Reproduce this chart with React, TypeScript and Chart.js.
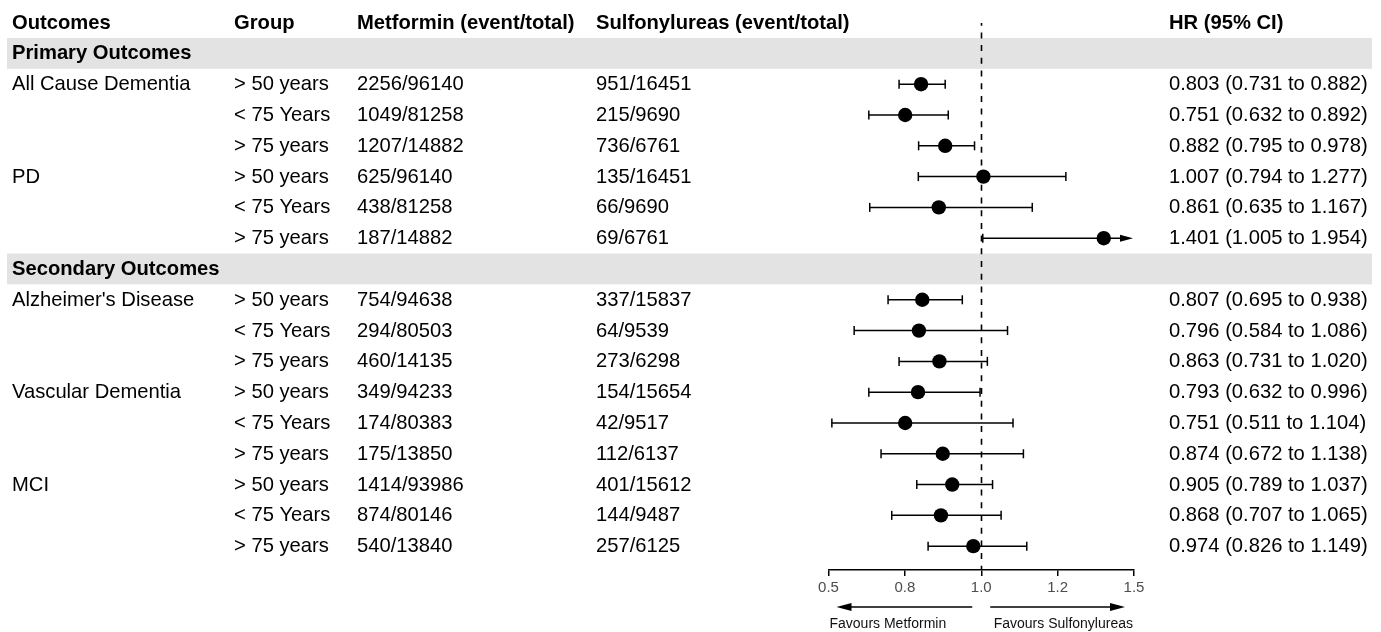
import React, { useEffect, useRef } from "react";
import { Chart, registerables } from "chart.js";
Chart.register(...registerables);

const HEADERS = ["Outcomes", "Group", "Metformin (event/total)", "Sulfonylureas (event/total)", "HR (95% CI)"];
const SECTIONS = ["Primary Outcomes", "Secondary Outcomes"];
const SECTION_START = [0, 6];
const OUTCOMES = ["All Cause Dementia", "", "", "PD", "", "", "Alzheimer's Disease", "", "", "Vascular Dementia", "", "", "MCI", "", ""];
const GROUPS = ["> 50 years", "< 75 Years", "> 75 years", "> 50 years", "< 75 Years", "> 75 years", "> 50 years", "< 75 Years", "> 75 years", "> 50 years", "< 75 Years", "> 75 years", "> 50 years", "< 75 Years", "> 75 years"];
const METFORMIN = ["2256/96140", "1049/81258", "1207/14882", "625/96140", "438/81258", "187/14882", "754/94638", "294/80503", "460/14135", "349/94233", "174/80383", "175/13850", "1414/93986", "874/80146", "540/13840"];
const SULFONYLUREAS = ["951/16451", "215/9690", "736/6761", "135/16451", "66/9690", "69/6761", "337/15837", "64/9539", "273/6298", "154/15654", "42/9517", "112/6137", "401/15612", "144/9487", "257/6125"];
const HR = [0.803, 0.751, 0.882, 1.007, 0.861, 1.401, 0.807, 0.796, 0.863, 0.793, 0.751, 0.874, 0.905, 0.868, 0.974];
const LOWER = [0.731, 0.632, 0.795, 0.794, 0.635, 1.005, 0.695, 0.584, 0.731, 0.632, 0.511, 0.672, 0.789, 0.707, 0.826];
const UPPER = [0.882, 0.892, 0.978, 1.277, 1.167, 1.954, 0.938, 1.086, 1.02, 0.996, 1.104, 1.138, 1.037, 1.065, 1.149];
const X_TICKS = [0.5, 0.75, 1, 1.25, 1.5];
const X_TICK_LABELS = ["0.5", "0.8", "1.0", "1.2", "1.5"];
const X_MIN = 0.5;
const X_MAX = 1.5;
const REF_VALUE = 1;
const FAVOURS = ["Favours Metformin", "Favours Sulfonylureas"];

const FONT = "'Liberation Sans', Arial, Helvetica, sans-serif";
const COL_X = [12, 234, 357, 596, 1169];
const BAND_LEFT = 7;
const BAND_RIGHT = 1372;

function rowOf(i: number) {
  let s = 0;
  SECTION_START.forEach((st) => { if (st <= i) s++; });
  return 1 + i + s;
}
function sectionRow(k: number) {
  return 1 + SECTION_START[k] + k;
}

const forestPlugin = {
  id: "forest",
  beforeDraw(chart: any) {
    const ctx = chart.ctx;
    const y = chart.scales.y;
    ctx.save();
    ctx.fillStyle = "#e3e3e3";
    SECTIONS.forEach((_, k) => {
      const r = sectionRow(k);
      const top = y.getPixelForValue(r - 0.5);
      const bot = y.getPixelForValue(r + 0.5);
      ctx.fillRect(BAND_LEFT, top, BAND_RIGHT - BAND_LEFT, bot - top);
    });
    ctx.restore();
  },
  beforeDatasetsDraw(chart: any) {
    const ctx = chart.ctx;
    const x = chart.scales.x;
    const y = chart.scales.y;
    const area = chart.chartArea;
    ctx.save();
    const rx = Math.round(x.getPixelForValue(REF_VALUE)) + 0.5;
    ctx.strokeStyle = "#000";
    ctx.lineWidth = 1.6;
    ctx.setLineDash([6, 6.7]);
    ctx.lineDashOffset = 3.3;
    ctx.beginPath();
    ctx.moveTo(rx, 23);
    ctx.lineTo(rx, area.bottom);
    ctx.stroke();
    ctx.setLineDash([]);
    ctx.lineWidth = 1.5;
    ctx.fillStyle = "#000";
    HR.forEach((_, i) => {
      const py = y.getPixelForValue(rowOf(i));
      const lo = Math.max(LOWER[i], X_MIN);
      const hi = Math.min(UPPER[i], X_MAX);
      const xl = x.getPixelForValue(lo);
      const xh = x.getPixelForValue(hi);
      const arrowHi = UPPER[i] > X_MAX;
      const arrowLo = LOWER[i] < X_MIN;
      const xhLine = arrowHi ? xh - 12 : xh;
      const xlLine = arrowLo ? xl + 12 : xl;
      ctx.beginPath();
      ctx.moveTo(xlLine, py);
      ctx.lineTo(xhLine, py);
      ctx.stroke();
      if (!arrowLo) {
        ctx.beginPath();
        ctx.moveTo(xl, py - 4.5);
        ctx.lineTo(xl, py + 4.5);
        ctx.stroke();
      } else {
        ctx.beginPath();
        ctx.moveTo(xl, py);
        ctx.lineTo(xl + 13, py - 3.5);
        ctx.lineTo(xl + 13, py + 3.5);
        ctx.closePath();
        ctx.fill();
      }
      if (!arrowHi) {
        ctx.beginPath();
        ctx.moveTo(xh, py - 4.5);
        ctx.lineTo(xh, py + 4.5);
        ctx.stroke();
      } else {
        ctx.beginPath();
        ctx.moveTo(xh - 1, py);
        ctx.lineTo(xh - 14, py - 3.5);
        ctx.lineTo(xh - 14, py + 3.5);
        ctx.closePath();
        ctx.fill();
      }
    });
    ctx.restore();
  },
  afterDraw(chart: any) {
    const ctx = chart.ctx;
    const x = chart.scales.x;
    const y = chart.scales.y;
    ctx.save();
    ctx.fillStyle = "#000";
    ctx.textBaseline = "alphabetic";
    ctx.textAlign = "left";
    const base = (r: number) => y.getPixelForValue(r) + 6;
    ctx.font = `bold 20.2px ${FONT}`;
    HEADERS.forEach((h, c) => ctx.fillText(h, COL_X[c], base(0)));
    SECTIONS.forEach((s, k) => ctx.fillText(s, COL_X[0], base(sectionRow(k))));
    ctx.font = `20.2px ${FONT}`;
    HR.forEach((v, i) => {
      const b = base(rowOf(i));
      if (OUTCOMES[i]) ctx.fillText(OUTCOMES[i], COL_X[0], b);
      ctx.fillText(GROUPS[i], COL_X[1], b);
      ctx.fillText(METFORMIN[i], COL_X[2], b);
      ctx.fillText(SULFONYLUREAS[i], COL_X[3], b);
      ctx.fillText(`${v.toFixed(3)} (${LOWER[i].toFixed(3)} to ${UPPER[i].toFixed(3)})`, COL_X[4], b);
    });
    const x0 = x.getPixelForValue(X_MIN);
    const x1 = x.getPixelForValue(REF_VALUE);
    const x2 = x.getPixelForValue(X_MAX);
    const ay = 607;
    ctx.strokeStyle = "#000";
    ctx.lineWidth = 1.5;
    const arrow = (from: number, to: number) => {
      const dir = Math.sign(to - from);
      ctx.beginPath();
      ctx.moveTo(from, ay);
      ctx.lineTo(to - dir * 12, ay);
      ctx.stroke();
      ctx.beginPath();
      ctx.moveTo(to, ay);
      ctx.lineTo(to - dir * 15, ay - 4);
      ctx.lineTo(to - dir * 15, ay + 4);
      ctx.closePath();
      ctx.fill();
    };
    arrow(x1 - 9, x0 + 8);
    arrow(x1 + 9, x2 - 9);
    ctx.font = `14px ${FONT}`;
    ctx.fillStyle = "#111";
    ctx.textAlign = "left";
    ctx.fillText(FAVOURS[0], x0 + 1, 628);
    ctx.textAlign = "right";
    ctx.fillText(FAVOURS[1], x2 - 1, 628);
    ctx.restore();
  },
};

export default function App() {
  const ref = useRef<HTMLCanvasElement | null>(null);
  useEffect(() => {
    if (!ref.current) return;
    const chart = new Chart(ref.current, {
      type: "scatter",
      data: {
        datasets: [
          {
            data: HR.map((v, i) => ({ x: v, y: rowOf(i) })),
            pointRadius: 7.2,
            pointHoverRadius: 7.2,
            backgroundColor: "#000",
            borderColor: "#000",
            borderWidth: 0,
            clip: false,
          } as any,
        ],
      },
      options: {
        animation: false,
        responsive: false,
        events: [],
        layout: { padding: { left: 828.5, right: 247, top: 3.5, bottom: 0 } },
        plugins: { legend: { display: false }, tooltip: { enabled: false } },
        scales: {
          x: {
            type: "linear",
            min: X_MIN,
            max: X_MAX,
            afterBuildTicks: (scale: any) => {
              scale.ticks = X_TICKS.map((v) => ({ value: v }));
            },
            afterFit: (scale: any) => {
              scale.height = 62;
            },
            ticks: {
              callback: (_v: any, i: number) => X_TICK_LABELS[i],
              font: { family: FONT, size: 15 },
              color: "#4d4d4d",
              padding: 3,
              maxRotation: 0,
            },
            grid: { drawOnChartArea: false, drawTicks: true, tickLength: 6, color: "#000", lineWidth: 1.5 },
            border: { display: true, color: "#000", width: 1.5 },
          },
          y: {
            type: "linear",
            min: -0.5,
            max: 17.774,
            reverse: true,
            display: false,
          },
        },
      } as any,
      plugins: [forestPlugin],
    });
    return () => chart.destroy();
  }, []);
  return (
    <div style={{ position: "absolute", left: 0, top: 0, width: 1381, height: 632 }}>
      <canvas ref={ref} width={1381} height={632} style={{ display: "block" }} />
    </div>
  );
}
